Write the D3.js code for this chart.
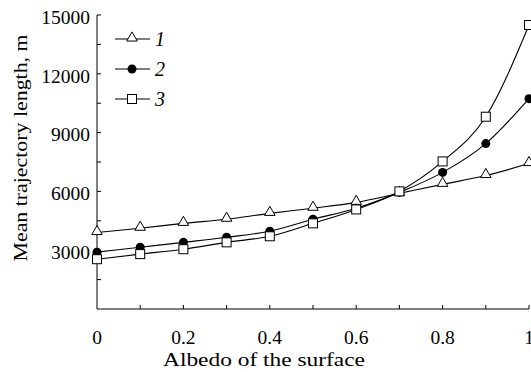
<!DOCTYPE html>
<html>
<head>
<meta charset="utf-8">
<script src="https://cdn.jsdelivr.net/npm/d3@7"></script>
<style>
  body { margin: 0; background: #fff; }
  text { font-family: "Liberation Serif", "DejaVu Serif", serif; }
</style>
</head>
<body>
<svg id="chart"></svg>
<script>
// data
var albedo = [0, 0.1, 0.2, 0.3, 0.4, 0.5, 0.6, 0.7, 0.8, 0.9, 1.0];
var series1 = [3900, 4120, 4370, 4580, 4880, 5140, 5440, 5900, 6360, 6810, 7420];
var series2 = [2900, 3150, 3400, 3660, 3970, 4580, 5140, 5950, 6970, 8440, 10730];
var series3 = [2540, 2800, 3050, 3400, 3710, 4370, 5080, 6000, 7530, 9810, 14490];
var seriesNames = ["1", "2", "3"];
var xTicks = [0, 0.2, 0.4, 0.6, 0.8, 1];
var yTicks = [3000, 6000, 9000, 12000, 15000];

var width = 531, height = 372;
var svg = d3.select("#chart").attr("width", width).attr("height", height);

var x = d3.scaleLinear().domain([0, 1]).range([97, 529]);
var y = d3.scaleLinear().domain([0, 15000]).range([309, 15]);

// axes
svg.append("line").attr("x1", x(0)).attr("x2", x(0))
  .attr("y1", y(15000)).attr("y2", y(0)).attr("stroke", "#000");
svg.append("line").attr("x1", x(0)).attr("x2", x(1))
  .attr("y1", y(0)).attr("y2", y(0)).attr("stroke", "#000");

// ticks, pointing in
d3.range(1500, 15001, 1500).forEach(function(v) {
  svg.append("line").attr("x1", x(0)).attr("x2", x(0) + 4)
    .attr("y1", y(v)).attr("y2", y(v)).attr("stroke", "#000");
});
d3.range(0.1, 1.01, 0.1).forEach(function(v) {
  svg.append("line").attr("x1", x(v)).attr("x2", x(v))
    .attr("y1", y(0)).attr("y2", y(0) - 4).attr("stroke", "#000");
});

svg.selectAll(".ylab").data(yTicks).enter().append("text")
  .attr("x", 90).attr("y", function(d) { return y(d); })
  .attr("dy", "0.45em").attr("text-anchor", "end")
  .attr("font-size", "19.5px").text(function(d) { return d; });

svg.selectAll(".xlab").data(xTicks).enter().append("text")
  .attr("x", function(d) { return x(d); }).attr("y", 344)
  .attr("text-anchor", "middle").attr("font-size", "19.5px")
  .text(function(d) { return d; });

svg.append("text").attr("x", 264).attr("y", 366).attr("text-anchor", "middle")
  .attr("font-size", "19px").attr("textLength", 202).attr("lengthAdjust", "spacingAndGlyphs")
  .text("Albedo of the surface");

svg.append("text").attr("transform", "translate(27,148) rotate(-90)")
  .attr("text-anchor", "middle").attr("font-size", "19px")
  .attr("textLength", 227).attr("lengthAdjust", "spacingAndGlyphs")
  .text("Mean trajectory length, m");

// lines
var all = [series1, series2, series3];
var line = d3.line()
  .x(function(d, i) { return x(albedo[i]); })
  .y(function(d) { return y(d); })
  .curve(d3.curveMonotoneX);

all.forEach(function(s) {
  svg.append("path").attr("d", line(s)).attr("fill", "none")
    .attr("stroke", "#000").attr("stroke-width", 1.1);
});

function marker(g, k, cx, cy) {
  if (k === 0) {
    g.append("path").attr("d", d3.symbol(d3.symbolTriangle, 48)())
      .attr("transform", "translate(" + cx + "," + (cy - 1) + ")")
      .attr("fill", "#fff").attr("stroke", "#000").attr("stroke-width", 1);
  } else if (k === 1) {
    g.append("circle").attr("cx", cx).attr("cy", cy).attr("r", 4.5).attr("fill", "#000");
  } else {
    g.append("rect").attr("x", cx - 4.5).attr("y", cy - 4.5)
      .attr("width", 9).attr("height", 9)
      .attr("fill", "#fff").attr("stroke", "#000").attr("stroke-width", 1);
  }
}

all.forEach(function(s, k) {
  s.forEach(function(v, i) { marker(svg, k, x(albedo[i]), y(v)); });
});

// legend
seriesNames.forEach(function(n, k) {
  var ly = 39 + k * 30;
  svg.append("line").attr("x1", 115).attr("x2", 150).attr("y1", ly).attr("y2", ly)
    .attr("stroke", "#000").attr("stroke-width", 1.1);
  marker(svg, k, 132, ly);
  svg.append("text").attr("x", 155).attr("y", ly).attr("dy", "0.36em")
    .attr("font-size", "20px").attr("font-style", "italic").text(n);
});
</script>
</body>
</html>
